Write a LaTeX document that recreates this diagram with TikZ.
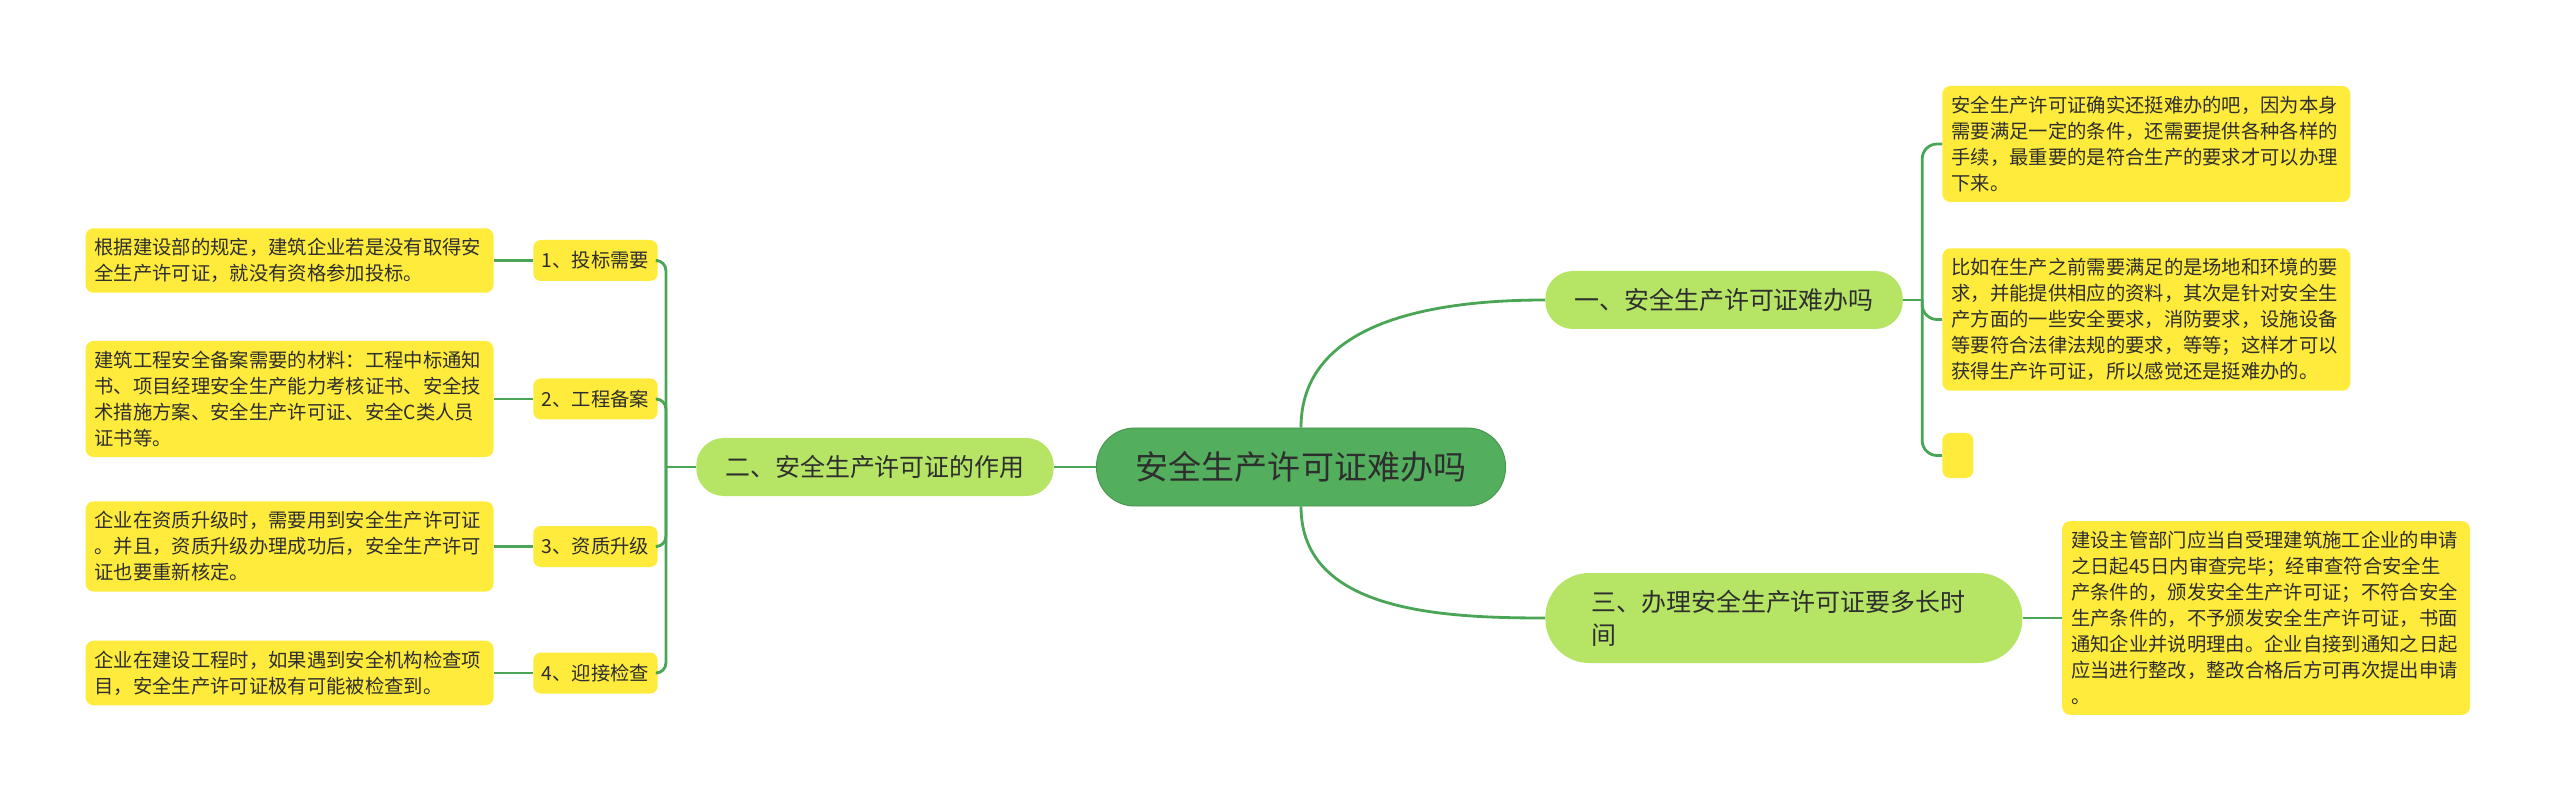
\documentclass[tikz,border=0pt]{standalone}
\usepackage{fontspec}
\setmainfont{Noto Sans CJK SC}
\usepackage{tikz}
\usetikzlibrary{positioning,calc}
\definecolor{rootgreen}{HTML}{53AE5D}
\definecolor{topicgreen}{HTML}{B6E464}
\definecolor{noteyellow}{HTML}{FFEB3B}
\definecolor{linkgreen}{HTML}{4AA656}
\definecolor{inkgrey}{HTML}{2E2E2E}

\begin{document}
\begin{tikzpicture}[
  root/.style={fill=rootgreen,draw=rootgreen!85!black,line width=0.5pt,rounded corners=0.76cm,minimum width=8.18cm,minimum height=1.56cm,font=\fontsize{18.8}{22}\selectfont,text=inkgrey},
  topic/.style={fill=topicgreen,rounded corners=0.55cm,minimum height=1.16cm,inner xsep=0.58cm,font=\fontsize{14.2}{18.8}\selectfont,text=inkgrey},
  tag/.style={fill=noteyellow,rounded corners=0.15cm,minimum height=0.82cm,inner xsep=0.17cm,font=\fontsize{11}{14.8}\selectfont,text=inkgrey},
  note/.style={fill=noteyellow,rounded corners=0.16cm,text width=7.8cm,align=left,inner xsep=0.18cm,inner ysep=0.2cm,font=\fontsize{11}{14.8}\selectfont,text=inkgrey},
  blanknote/.style={fill=noteyellow,rounded corners=0.15cm,minimum width=0.62cm,minimum height=0.9cm,inner sep=0pt},
  link/.style={draw=linkgreen,line width=1.6pt,rounded corners=0.3cm},
  node distance=0.78cm
]
\useasboundingbox (0,0) rectangle (51.2,-16);

% centre and main topics
\node[root] (root) at (26.02,-9.34) {安全生产许可证难办吗};
\node[topic,left=0.84cm of root] (er) {二、安全生产许可证的作用};
\node[topic,anchor=west] (yi) at (30.9,-6.0) {一、安全生产许可证难办吗};
\node[topic,anchor=west,text width=7.7cm,align=left,inner xsep=0.92cm,minimum height=1.8cm,rounded corners=0.88cm] (san) at (30.9,-12.36) {三、办理安全生产许可证要多长时\\间};

% left side
\node[tag,anchor=east] (t1) at (13.16,-5.21) {1、投标需要};
\node[tag,anchor=east] (t2) at (13.16,-7.98) {2、工程备案};
\node[tag,anchor=east] (t3) at (13.16,-10.93) {3、资质升级};
\node[tag,anchor=east] (t4) at (13.16,-13.46) {4、迎接检查};

\node[note,left=of t1] (n1) {根据建设部的规定，建筑企业若是没有取得安\\
全生产许可证，就没有资格参加投标。};
\node[note,left=of t2] (n2) {建筑工程安全备案需要的材料：工程中标通知\\
书、项目经理安全生产能力考核证书、安全技\\
术措施方案、安全生产许可证、安全C类人员\\
证书等。};
\node[note,left=of t3] (n3) {企业在资质升级时，需要用到安全生产许可证\\
。并且，资质升级办理成功后，安全生产许可\\
证也要重新核定。};
\node[note,left=of t4] (n4) {企业在建设工程时，如果遇到安全机构检查项\\
目，安全生产许可证极有可能被检查到。};

% right side
\node[note,anchor=west] (r1) at (38.84,-2.88) {安全生产许可证确实还挺难办的吧，因为本身\\
需要满足一定的条件，还需要提供各种各样的\\
手续，最重要的是符合生产的要求才可以办理\\
下来。};
\node[note,anchor=west] (r2) at (38.84,-6.39) {比如在生产之前需要满足的是场地和环境的要\\
求，并能提供相应的资料，其次是针对安全生\\
产方面的一些安全要求，消防要求，设施设备\\
等要符合法律法规的要求，等等；这样才可以\\
获得生产许可证，所以感觉还是挺难办的。};
\node[blanknote,anchor=west] (r0) at (38.84,-9.11) {};
\node[note,right=of san] (r3) {建设主管部门应当自受理建筑施工企业的申请\\
之日起45日内审查完毕；经审查符合安全生\\
产条件的，颁发安全生产许可证；不符合安全\\
生产条件的，不予颁发安全生产许可证，书面\\
通知企业并说明理由。企业自接到通知之日起\\
应当进行整改，整改合格后方可再次提出申请\\
。};

\coordinate (yj) at ([xshift=0.38cm]yi.east);
\coordinate (ej) at ([xshift=-0.6cm]er.west);

% links
\draw[link] (root.west) -- (er.east);
\draw[link] (root.north) to[out=90,in=180] (yi.west);
\draw[link] (root.south) to[out=-90,in=180] (san.west);
\draw[link] (er.west) -- (ej);
\foreach \t in {t1,t2,t3,t4}
  \draw[link,rounded corners=0.2cm] (ej) |- (\t.east);
\foreach \t in {n1,n2,n3,n4}
  \draw[link] (\t.east) -- ++(0.78,0);
\draw[link] (yi.east) -- (yj);
\foreach \r in {r1,r2,r0}
  \draw[link] (yj) |- (\r.west);
\draw[link] (san.east) -- (r3.west);
\end{tikzpicture}
\end{document}
